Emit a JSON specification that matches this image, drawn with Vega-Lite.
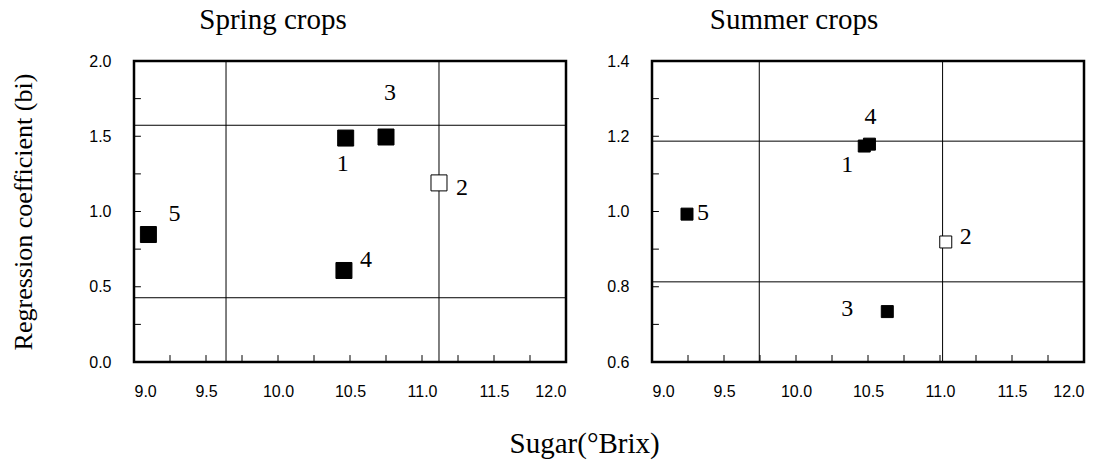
{
  "$schema": "https://vega.github.io/schema/vega-lite/v6.json",
  "background": "white",
  "padding": {"left": 9, "top": 4, "right": 5, "bottom": 2},
  "datasets": {
    "spring": [
      {"cultivar": 1, "sugar": 10.47, "bi": 1.488},
      {"cultivar": 2, "sugar": 11.118, "bi": 1.19},
      {"cultivar": 3, "sugar": 10.75, "bi": 1.495},
      {"cultivar": 4, "sugar": 10.458, "bi": 0.608},
      {"cultivar": 5, "sugar": 9.10, "bi": 0.847}
    ],
    "summer": [
      {"cultivar": 1, "sugar": 10.474, "bi": 1.174},
      {"cultivar": 2, "sugar": 11.04, "bi": 0.919},
      {"cultivar": 3, "sugar": 10.634, "bi": 0.734},
      {"cultivar": 4, "sugar": 10.51, "bi": 1.179},
      {"cultivar": 5, "sugar": 9.243, "bi": 0.993}
    ],
    "spring_lines": [
      {"dir": "v", "value": 9.639},
      {"dir": "v", "value": 11.118},
      {"dir": "h", "value": 1.573},
      {"dir": "h", "value": 0.427}
    ],
    "summer_lines": [
      {"dir": "v", "value": 9.745},
      {"dir": "v", "value": 11.018},
      {"dir": "h", "value": 1.187},
      {"dir": "h", "value": 0.813}
    ],
    "x_ticks": [
      {"v": 9.25}, {"v": 9.5}, {"v": 9.75}, {"v": 10}, {"v": 10.25}, {"v": 10.5},
      {"v": 10.75}, {"v": 11}, {"v": 11.25}, {"v": 11.5}, {"v": 11.75}
    ],
    "spring_y_ticks": [
      {"v": 0.25}, {"v": 0.5}, {"v": 0.75}, {"v": 1}, {"v": 1.25}, {"v": 1.5}, {"v": 1.75}
    ],
    "summer_y_ticks": [
      {"v": 0.7}, {"v": 0.8}, {"v": 0.9}, {"v": 1.0}, {"v": 1.1}, {"v": 1.2}, {"v": 1.3}
    ]
  },
  "title": {
    "text": "Sugar(°Brix)",
    "orient": "bottom",
    "anchor": "middle",
    "frame": "bounds",
    "dx": 37,
    "offset": 30,
    "font": "Liberation Serif",
    "fontSize": 29,
    "fontWeight": "normal",
    "color": "black"
  },
  "config": {
    "view": {"stroke": "black", "strokeWidth": 2.5},
    "axis": {
      "domain": false,
      "grid": false,
      "ticks": false,
      "labelFont": "Liberation Sans",
      "labelFontSize": 16,
      "labelColor": "black",
      "titleColor": "black",
      "titleFont": "Liberation Serif",
      "titleFontSize": 26,
      "titleFontWeight": "normal"
    },
    "title": {"color": "black"}
  },
  "resolve": {"scale": {"x": "independent", "y": "independent"}},
  "bounds": "flush",
  "spacing": 86,
  "hconcat": [
    {
      "width": 432,
      "height": 301,
      "title": {"text": "Spring crops", "anchor": "middle", "frame": "group", "dx": -77, "offset": 18, "font": "Liberation Serif", "fontSize": 29, "fontWeight": "normal"},
      "layer": [
        {
          "data": {"name": "spring_lines"},
          "transform": [{"filter": "datum.dir === 'v'"}],
          "mark": {"type": "rule", "color": "black", "strokeWidth": 1},
          "encoding": {
            "x": {"field": "value", "type": "quantitative", "scale": {"domain": [9, 12], "nice": false, "zero": false},
              "axis": {"title": null, "values": [9, 9.5, 10, 10.5, 11, 11.5, 12], "format": ".1f", "labelPadding": 21}}
          }
        },
        {
          "data": {"name": "spring_lines"},
          "transform": [{"filter": "datum.dir === 'h'"}],
          "mark": {"type": "rule", "color": "black", "strokeWidth": 1},
          "encoding": {
            "y": {"field": "value", "type": "quantitative", "scale": {"domain": [0, 2], "nice": false},
              "axis": {"title": "Regression coefficient (bi)", "titlePadding": 52, "values": [0, 0.5, 1, 1.5, 2], "format": ".1f", "labelPadding": 23}}
          }
        },
        {
          "data": {"name": "x_ticks"},
          "mark": {"type": "rule", "color": "black", "strokeWidth": 1},
          "encoding": {
            "x": {"field": "v", "type": "quantitative"},
            "y": {"datum": 0},
            "y2": {"datum": 0.046}
          }
        },
        {
          "data": {"name": "spring_y_ticks"},
          "mark": {"type": "rule", "color": "black", "strokeWidth": 1},
          "encoding": {
            "y": {"field": "v", "type": "quantitative"},
            "x": {"datum": 9},
            "x2": {"datum": 9.048}
          }
        },
        {
          "data": {"name": "spring"},
          "mark": {"type": "square", "size": 256, "stroke": "black", "strokeWidth": 1, "opacity": 1},
          "encoding": {
            "x": {"field": "sugar", "type": "quantitative"},
            "y": {"field": "bi", "type": "quantitative"},
            "fill": {"condition": {"test": "datum.cultivar === 2", "value": "white"}, "value": "black"}
          }
        },
        {"data": {"name": "spring"}, "transform": [{"filter": "datum.cultivar === 1"}], "mark": {"type": "text", "font": "Liberation Serif", "fontSize": 24, "color": "black", "baseline": "middle", "align": "center", "dx": -3, "dy": 26}, "encoding": {"x": {"field": "sugar", "type": "quantitative"}, "y": {"field": "bi", "type": "quantitative"}, "text": {"field": "cultivar"}}},
        {"data": {"name": "spring"}, "transform": [{"filter": "datum.cultivar === 2"}], "mark": {"type": "text", "font": "Liberation Serif", "fontSize": 24, "color": "black", "baseline": "middle", "align": "center", "dx": 23, "dy": 5}, "encoding": {"x": {"field": "sugar", "type": "quantitative"}, "y": {"field": "bi", "type": "quantitative"}, "text": {"field": "cultivar"}}},
        {"data": {"name": "spring"}, "transform": [{"filter": "datum.cultivar === 3"}], "mark": {"type": "text", "font": "Liberation Serif", "fontSize": 24, "color": "black", "baseline": "middle", "align": "center", "dx": 4, "dy": -44}, "encoding": {"x": {"field": "sugar", "type": "quantitative"}, "y": {"field": "bi", "type": "quantitative"}, "text": {"field": "cultivar"}}},
        {"data": {"name": "spring"}, "transform": [{"filter": "datum.cultivar === 4"}], "mark": {"type": "text", "font": "Liberation Serif", "fontSize": 24, "color": "black", "baseline": "middle", "align": "center", "dx": 22, "dy": -10}, "encoding": {"x": {"field": "sugar", "type": "quantitative"}, "y": {"field": "bi", "type": "quantitative"}, "text": {"field": "cultivar"}}},
        {"data": {"name": "spring"}, "transform": [{"filter": "datum.cultivar === 5"}], "mark": {"type": "text", "font": "Liberation Serif", "fontSize": 24, "color": "black", "baseline": "middle", "align": "center", "dx": 26, "dy": -21}, "encoding": {"x": {"field": "sugar", "type": "quantitative"}, "y": {"field": "bi", "type": "quantitative"}, "text": {"field": "cultivar"}}}
      ]
    },
    {
      "width": 432,
      "height": 301,
      "title": {"text": "Summer crops", "anchor": "middle", "frame": "group", "dx": -74, "offset": 18, "font": "Liberation Serif", "fontSize": 29, "fontWeight": "normal"},
      "layer": [
        {
          "data": {"name": "summer_lines"},
          "transform": [{"filter": "datum.dir === 'v'"}],
          "mark": {"type": "rule", "color": "black", "strokeWidth": 1},
          "encoding": {
            "x": {"field": "value", "type": "quantitative", "scale": {"domain": [9, 12], "nice": false, "zero": false},
              "axis": {"title": null, "values": [9, 9.5, 10, 10.5, 11, 11.5, 12], "format": ".1f", "labelPadding": 21}}
          }
        },
        {
          "data": {"name": "summer_lines"},
          "transform": [{"filter": "datum.dir === 'h'"}],
          "mark": {"type": "rule", "color": "black", "strokeWidth": 1},
          "encoding": {
            "y": {"field": "value", "type": "quantitative", "scale": {"domain": [0.6, 1.4], "nice": false, "zero": false},
              "axis": {"title": null, "values": [0.6, 0.8, 1.0, 1.2, 1.4], "format": ".1f", "labelPadding": 23}}
          }
        },
        {
          "data": {"name": "x_ticks"},
          "mark": {"type": "rule", "color": "black", "strokeWidth": 1},
          "encoding": {
            "x": {"field": "v", "type": "quantitative"},
            "y": {"datum": 0.6},
            "y2": {"datum": 0.6186}
          }
        },
        {
          "data": {"name": "summer_y_ticks"},
          "mark": {"type": "rule", "color": "black", "strokeWidth": 1},
          "encoding": {
            "y": {"field": "v", "type": "quantitative"},
            "x": {"datum": 9},
            "x2": {"datum": 9.048}
          }
        },
        {
          "data": {"name": "summer"},
          "mark": {"type": "square", "size": 144, "stroke": "black", "strokeWidth": 1, "opacity": 1},
          "encoding": {
            "x": {"field": "sugar", "type": "quantitative"},
            "y": {"field": "bi", "type": "quantitative"},
            "fill": {"condition": {"test": "datum.cultivar === 2", "value": "white"}, "value": "black"}
          }
        },
        {"data": {"name": "summer"}, "transform": [{"filter": "datum.cultivar === 1"}], "mark": {"type": "text", "font": "Liberation Serif", "fontSize": 24, "color": "black", "baseline": "middle", "align": "center", "dx": -17, "dy": 19}, "encoding": {"x": {"field": "sugar", "type": "quantitative"}, "y": {"field": "bi", "type": "quantitative"}, "text": {"field": "cultivar"}}},
        {"data": {"name": "summer"}, "transform": [{"filter": "datum.cultivar === 2"}], "mark": {"type": "text", "font": "Liberation Serif", "fontSize": 24, "color": "black", "baseline": "middle", "align": "center", "dx": 20, "dy": -5}, "encoding": {"x": {"field": "sugar", "type": "quantitative"}, "y": {"field": "bi", "type": "quantitative"}, "text": {"field": "cultivar"}}},
        {"data": {"name": "summer"}, "transform": [{"filter": "datum.cultivar === 3"}], "mark": {"type": "text", "font": "Liberation Serif", "fontSize": 24, "color": "black", "baseline": "middle", "align": "center", "dx": -40, "dy": -3}, "encoding": {"x": {"field": "sugar", "type": "quantitative"}, "y": {"field": "bi", "type": "quantitative"}, "text": {"field": "cultivar"}}},
        {"data": {"name": "summer"}, "transform": [{"filter": "datum.cultivar === 4"}], "mark": {"type": "text", "font": "Liberation Serif", "fontSize": 24, "color": "black", "baseline": "middle", "align": "center", "dx": 1, "dy": -27}, "encoding": {"x": {"field": "sugar", "type": "quantitative"}, "y": {"field": "bi", "type": "quantitative"}, "text": {"field": "cultivar"}}},
        {"data": {"name": "summer"}, "transform": [{"filter": "datum.cultivar === 5"}], "mark": {"type": "text", "font": "Liberation Serif", "fontSize": 24, "color": "black", "baseline": "middle", "align": "center", "dx": 16, "dy": -1}, "encoding": {"x": {"field": "sugar", "type": "quantitative"}, "y": {"field": "bi", "type": "quantitative"}, "text": {"field": "cultivar"}}}
      ]
    }
  ]
}
